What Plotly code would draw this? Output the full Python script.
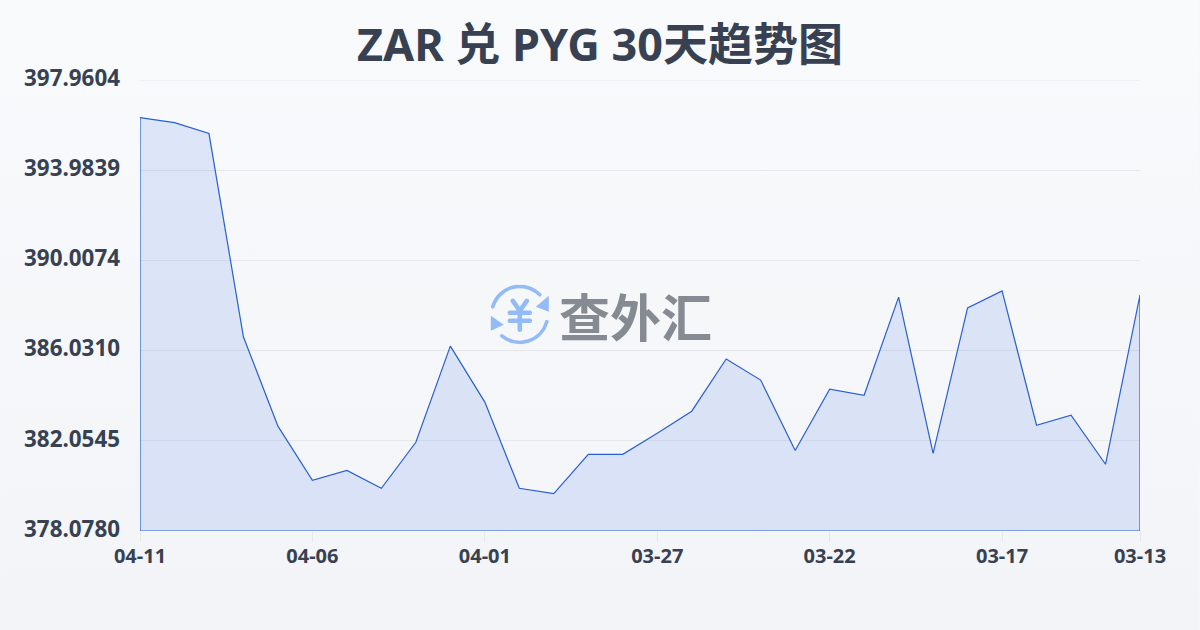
import base64
import plotly.graph_objects as go

dates = ["04-11","04-10","04-09","04-08","04-07","04-06","04-05","04-04","04-03","04-02",
         "04-01","03-31","03-30","03-29","03-28","03-27","03-26","03-25","03-24","03-23",
         "03-22","03-21","03-20","03-19","03-18","03-17","03-16","03-15","03-14","03-13"]
rates = [396.30,396.08,395.60,386.63,382.70,380.31,380.75,379.96,381.99,386.23,
         383.76,379.96,379.73,381.46,381.46,382.39,383.36,385.66,384.73,381.63,
         384.33,384.06,388.39,381.50,387.91,388.66,382.74,383.18,381.02,388.48]
y_ticks = [397.9604,393.9839,390.0074,386.0310,382.0545,378.0780]
y_labels = ["397.9604","393.9839","390.0074","386.0310","382.0545","378.0780"]
x_ticks = ["04-11","04-06","04-01","03-27","03-22","03-17","03-13"]
title = "ZAR 兑 PYG 30天趋势图"
watermark = "查外汇"
base = y_ticks[-1]

FONT = "Noto Sans, Noto Sans CJK SC, sans-serif"
INK = "#374151"
GRID = "#e5e7eb"

def uri(svg):
    return "data:image/svg+xml;base64," + base64.b64encode(svg.encode()).decode()

bg_svg = ('<svg xmlns="http://www.w3.org/2000/svg" width="1200" height="630" preserveAspectRatio="none">'
          '<defs><linearGradient id="g" x1="0" y1="0" x2="0" y2="1"><stop offset="0" stop-color="#f8fafc"/>'
          '<stop offset="1" stop-color="#f2f4f7"/></linearGradient></defs>'
          '<rect width="1200" height="630" fill="url(#g)"/></svg>')

icon_svg = ('<svg xmlns="http://www.w3.org/2000/svg" viewBox="0 0 60 60" width="60" height="60">'
            '<g fill="none" stroke="#93bbf8" stroke-width="3.6" stroke-linecap="round">'
            '<path d="M3 22 A28 28 0 0 1 50 10"/><path d="M57 37 A28 28 0 0 1 12 51"/>'
            '<path d="M23 16 L30 26 L37 16 M20 28 H40 M20 36 H40 M30 26 V45" stroke-width="4.6"/></g>'
            '<path d="M59 11 L59 27 L46 22 Z M1 31 L1 46 L14 40 Z" fill="#93bbf8"/></svg>')

fig = go.Figure()
fig.add_trace(go.Scatter(
    x=[dates[0]] + dates + [dates[-1], dates[0]],
    y=[base] + rates + [base, base],
    mode="lines",
    line=dict(color="#2a5fcf", width=1.2),
    fill="toself",
    fillcolor="rgba(37,99,235,0.125)",
    cliponaxis=False,
    hoverinfo="skip",
    showlegend=False,
))

fig.update_layout(
    width=1200, height=630,
    margin=dict(l=140, r=59.5, t=80.4, b=99),
    paper_bgcolor="#f5f7fa",
    plot_bgcolor="rgba(0,0,0,0)",
    font=dict(family=FONT, color=INK),
    title=dict(text=f"<b>{title}</b>", x=0.5, xanchor="center", y=0.928, yanchor="middle",
               font=dict(size=45, color=INK, family=FONT)),
    xaxis=dict(type="category", categoryorder="array", categoryarray=dates, range=[0, 29],
               tickmode="array", tickvals=x_ticks, ticktext=[f"<b>{t}</b>" for t in x_ticks],
               showgrid=False, zeroline=False, showline=False,
               ticks="outside", ticklen=10, tickwidth=1, tickcolor=GRID,
               ticklabelstandoff=-3,
               tickfont=dict(size=20, color=INK, family=FONT)),
    yaxis=dict(range=[base, y_ticks[0]], tickmode="array", tickvals=y_ticks,
               ticktext=[f"<b>{t}</b>" for t in y_labels],
               showgrid=True, gridcolor=GRID, gridwidth=1, zeroline=False, showline=False,
               ticks="", ticklabelstandoff=19, ticklabelshift=-2,
               tickfont=dict(size=22.4, color=INK, family=FONT)),
    shapes=[dict(type="line", xref="paper", x0=0, x1=1, yref="y", y0=y_ticks[0], y1=y_ticks[0],
                 line=dict(color=GRID, width=1), layer="below")],
    images=[
        dict(source=uri(bg_svg), xref="paper", yref="paper", x=-140/1000.5, y=1+80.4/450.6,
             sizex=1200/1000.5, sizey=630/450.6, sizing="stretch", xanchor="left", yanchor="top", layer="below"),
        dict(source=uri(icon_svg), xref="paper", yref="paper", x=(490-140)/1000.5, y=1-(285-80.4)/450.6,
             sizex=60/1000.5, sizey=60/450.6, sizing="contain", xanchor="left", yanchor="top", layer="above"),
    ],
    annotations=[dict(text=f"<b>{watermark}</b>", xref="paper", yref="paper",
                      x=(636-140)/1000.5, y=1-(315-80.4)/450.6, xanchor="center", yanchor="middle",
                      showarrow=False, font=dict(size=51, color="#868b93", family="Noto Sans CJK SC"))],
)
fig.write_html("out.html", config=dict(displayModeBar=False),
               post_script="document.body.style.margin='0';document.documentElement.style.overflow='hidden';")
